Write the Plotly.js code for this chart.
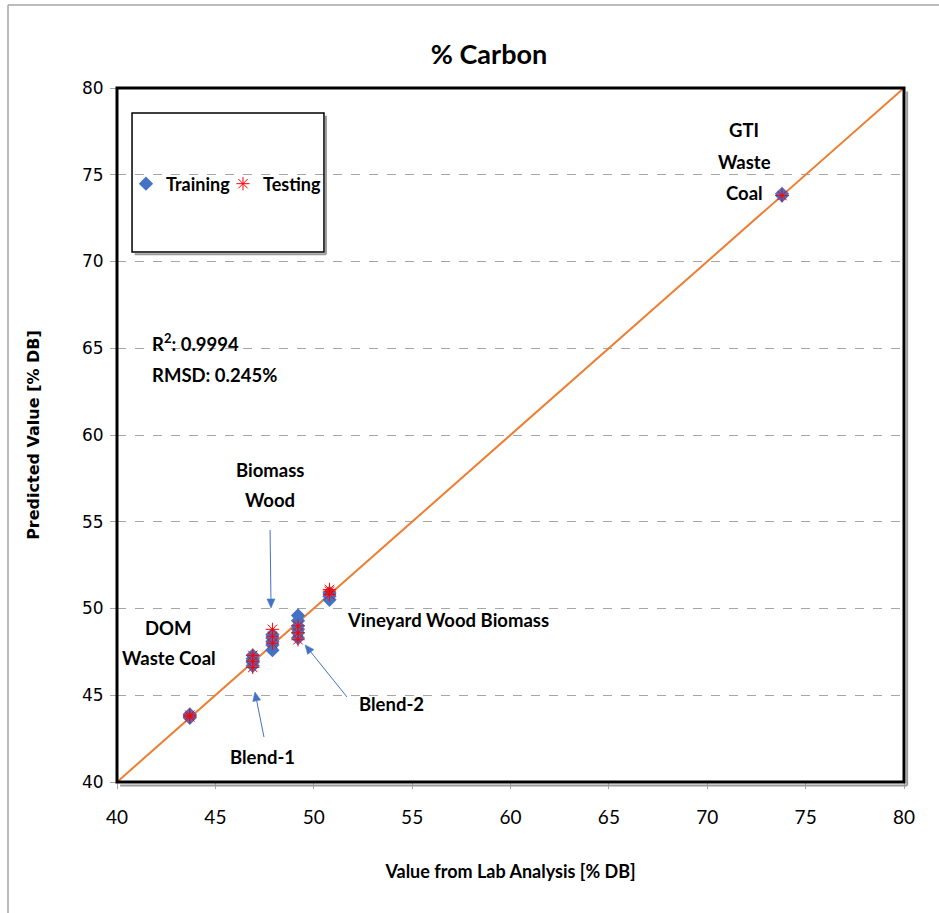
<!DOCTYPE html>
<html>
<head>
<meta charset="utf-8">
<script src="https://cdn.plot.ly/plotly-3.0.1.min.js"></script>
<style>html,body{margin:0;padding:0;background:#fff;}#chart{width:939px;height:913px;}</style>
</head>
<body>
<div id="chart"></div>
<script>
// ---- data ----
const trainX = [43.7,43.7,43.7, 46.9,46.9,46.9,46.9,46.9, 47.9,47.9,47.9,47.9,47.9, 49.2,49.2,49.2,49.2,49.2,49.2, 50.8,50.8,50.8, 73.8,73.8];
const trainY = [43.7,43.8,43.9, 46.7,46.9,47.0,47.1,47.3, 47.6,47.9,48.1,48.3,48.5, 48.3,48.6,48.8,49.0,49.3,49.6, 50.5,50.7,50.9, 73.8,73.9];
const testX  = [43.7,43.7, 46.9,46.9,46.9, 47.9,47.9,47.9, 49.2,49.2,49.2, 50.8,50.8,50.8, 73.8];
const testY  = [43.75,43.85, 46.6,46.95,47.3, 48.0,48.4,48.8, 48.2,48.6,49.0, 50.8,51.0,51.1, 73.8];
const lineX = [40, 80];
const lineY = [40, 80];
const tickVals = [40,45,50,55,60,65,70,75,80];

const LBL = "Lato, 'Open Sans', sans-serif";
const VER = "'DejaVu Sans', Verdana, sans-serif";
const BLUE = '#4472C4';

const traces = [
  {x: lineX, y: lineY, mode: 'lines', line: {color: '#ED7D31', width: 2}, showlegend: false, hoverinfo: 'skip'},
  {x: trainX, y: trainY, mode: 'markers', name: 'Training', legend: 'legend',
   marker: {symbol: 'diamond', size: 11, color: BLUE}},
  {x: testX, y: testY, mode: 'markers', name: 'Testing', legend: 'legend2',
   marker: {symbol: 'asterisk-open', size: 11, color: '#FF0000', line: {color: '#FF2020', width: 1}}}
];

function txt(text, x, y, anchor) {
  return {text: text, x: x, y: y, xref: 'x', yref: 'y', showarrow: false,
          xanchor: anchor || 'center', yanchor: 'middle',
          font: {family: LBL, size: 18.5, color: '#000', weight: 'bold'}};
}

const annotations = [
  txt('GTI', 71.87, 77.58), txt('Waste', 71.87, 75.73), txt('Coal', 71.87, 73.95),
  txt('R<sup>2</sup>: 0.9994', 41.68, 65.36, 'left'),
  txt('RMSD: 0.245%', 41.68, 63.46, 'left'),
  txt('Biomass', 47.78, 57.98), txt('Wood', 47.78, 56.25),
  txt('DOM', 42.64, 48.88), txt('Waste Coal', 42.64, 47.15),
  txt('Vineyard Wood Biomass', 51.59, 49.34, 'left'),
  txt('Blend-2', 52.2, 44.5, 'left'),
  txt('Blend-1', 45.64, 41.44, 'left')
];

// arrows pointing at clusters, drawn as shapes (head x/y, tail x/y in data units)
const PXX = 787 / 40, PXY = 694 / 40;
function arrowShapes(hx, hy, tx, ty) {
  const dx = (hx - tx) * PXX, dy = (hy - ty) * PXY;
  const L = Math.hypot(dx, dy), ux = dx / L, uy = dy / L;
  const len = 9, half = 4;
  const bx = -ux * len, by = -uy * len;
  const p1 = [hx + (bx - uy * half) / PXX, hy + (by + ux * half) / PXY];
  const p2 = [hx + (bx + uy * half) / PXX, hy + (by - ux * half) / PXY];
  const sx = hx + bx / PXX, sy = hy + by / PXY;
  return [
    {type: 'line', xref: 'x', yref: 'y', x0: tx, y0: ty, x1: sx, y1: sy, line: {color: BLUE, width: 1}},
    {type: 'path', xref: 'x', yref: 'y', path: `M ${hx} ${hy} L ${p1[0]} ${p1[1]} L ${p2[0]} ${p2[1]} Z`,
     fillcolor: BLUE, line: {color: BLUE, width: 0.5}}
  ];
}

const shapes = [
  // outer chart border (left and top)
  {type: 'line', xref: 'paper', yref: 'paper', x0: -0.1385, x1: -0.1385, y0: 1.1196, y1: -0.19, line: {color: '#a6a6a6', width: 1.5}},
  {type: 'line', xref: 'paper', yref: 'paper', x0: -0.1385, x1: 1.05, y0: 1.1196, y1: 1.1196, line: {color: '#a6a6a6', width: 1.5}},
  // plot frame shadow
  {type: 'line', xref: 'paper', yref: 'paper', x0: 0.004, x1: 1.004, y0: -0.005, y1: -0.005, line: {color: '#9a9a9a', width: 2}},
  {type: 'line', xref: 'paper', yref: 'paper', x0: 1.004, x1: 1.004, y0: -0.005, y1: 0.995, line: {color: '#9a9a9a', width: 2}},
  // plot frame
  {type: 'rect', xref: 'paper', yref: 'paper', x0: 0, x1: 1, y0: 0, y1: 1, line: {color: '#000', width: 3}},
  // legend box shadow
  {type: 'line', xref: 'paper', yref: 'paper', x0: 0.0225, x1: 0.2655, y0: 0.7605, y1: 0.7605, line: {color: '#9a9a9a', width: 2}},
  {type: 'line', xref: 'paper', yref: 'paper', x0: 0.2655, x1: 0.2655, y0: 0.7605, y1: 0.960, line: {color: '#9a9a9a', width: 2}},
  // legend box
  {type: 'rect', xref: 'paper', yref: 'paper', x0: 0.0191, x1: 0.263, y0: 0.7637, y1: 0.964, fillcolor: 'rgba(0,0,0,0)', line: {color: '#000', width: 1.5}}
].concat(
  arrowShapes(47.83, 50.03, 47.78, 54.52),
  arrowShapes(47.01, 45.19, 47.47, 42.59),
  arrowShapes(49.56, 47.9, 51.69, 44.9)
);

const legendFont = {family: LBL, size: 18, color: '#000', weight: 'bold'};

const layout = {
  width: 939, height: 913,
  margin: {l: 117, r: 35, t: 88, b: 131},
  paper_bgcolor: '#fff', plot_bgcolor: '#fff',
  title: {text: '% Carbon', x: 0.4727, xref: 'paper', xanchor: 'center', y: 0.9398, yref: 'container', yanchor: 'middle',
          font: {family: LBL, size: 27, color: '#000', weight: 'bold'}},
  xaxis: {range: [40, 80], tickvals: tickVals, showgrid: false, zeroline: false, showline: false,
          ticks: 'outside', ticklen: 6, tickcolor: '#a6a6a6', ticklabelstandoff: 12,
          tickfont: {family: LBL, size: 19, color: '#000'},
          title: {text: 'Value from Lab Analysis [% DB]', standoff: 38, font: {family: LBL, size: 18, color: '#000', weight: 'bold'}}},
  yaxis: {range: [40, 80], tickvals: tickVals, showgrid: true, gridcolor: '#a6a6a6', griddash: 'dash', gridwidth: 1,
          zeroline: false, showline: false,
          ticks: 'outside', ticklen: 6, tickcolor: '#a6a6a6', ticklabelstandoff: 3,
          tickfont: {family: VER, size: 17, color: '#000'},
          title: {text: 'Predicted Value [% DB]', standoff: 38, font: {family: VER, size: 16, color: '#000', weight: 'bold'}}},
  showlegend: true,
  legend: {x: 0.0114, xanchor: 'left', y: 0.8617, yanchor: 'middle', bgcolor: 'rgba(0,0,0,0)',
           borderwidth: 0, font: legendFont, itemwidth: 30},
  legend2: {x: 0.1347, xanchor: 'left', y: 0.8617, yanchor: 'middle', bgcolor: 'rgba(0,0,0,0)',
           borderwidth: 0, font: legendFont, itemwidth: 30},
  annotations: annotations,
  shapes: shapes
};

Plotly.newPlot('chart', traces, layout, {displayModeBar: false, staticPlot: true});
</script>
</body>
</html>
